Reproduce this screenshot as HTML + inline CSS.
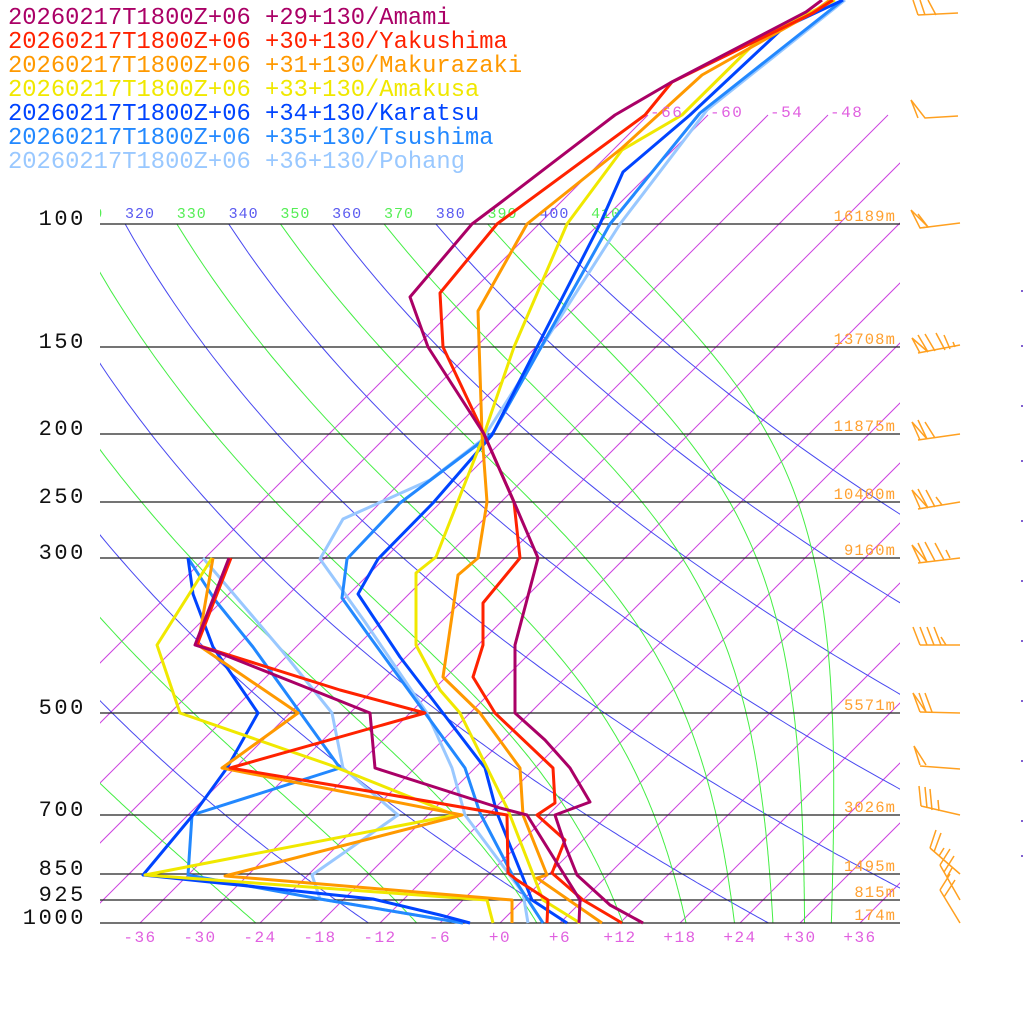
<!DOCTYPE html>
<html><head><meta charset="utf-8"><style>
html,body{margin:0;padding:0;background:#fff;}
svg{display:block;}
text{font-family:"Liberation Mono","DejaVu Sans Mono",monospace;}
</style></head><body>
<svg id="s" width="1024" height="1024" viewBox="0 0 1024 1024" xmlns="http://www.w3.org/2000/svg">
<defs>
<clipPath id="cp"><rect x="100" y="224" width="800" height="700"/></clipPath>
<clipPath id="ci"><rect x="100" y="110" width="800" height="814"/></clipPath>
<clipPath id="cl"><rect x="100" y="190" width="800" height="40"/></clipPath>
</defs>
<g id="bg"></g>
<g id="hl" stroke="#222" stroke-width="1.3"></g>
<g id="lbl"></g>
<g id="data" fill="none" stroke-width="3" stroke-linejoin="round"></g>
<g id="barbs" fill="none" stroke="#ffa020" stroke-width="1.5"></g>
<g id="leg" font-size="23.8"></g>
</svg>
<script>
var NS="http://www.w3.org/2000/svg";
function el(t,a,p,txt){var e=document.createElementNS(NS,t);for(var k in a)e.setAttribute(k,a[k]);if(txt!=null)e.textContent=txt;(p||document.getElementById('s')).appendChild(e);return e;}
var K=303.6,Y0=923;
function yP(p){return Y0-K*Math.log(1000/p);}
function xT(Tc,y){return 500+10*Tc+(Y0-y);}
var bg=document.getElementById('bg');
var gi=el('g',{'clip-path':'url(#ci)'},bg);
var ga=el('g',{'clip-path':'url(#cp)'},bg);
for(var T=-66;T<=48;T+=6){
  var y1=115,y2=923;
  el('line',{x1:xT(T,y1),y1:y1,x2:xT(T,y2),y2:y2,stroke:'#cc44e0','stroke-width':1},gi);
}
var Rd=287.04,cp=1005.7,L=2.501e6,eps=0.622;
function es(T){var t=T-273.15;return 6.112*Math.exp(17.67*t/(t+243.5));}
for(var th=250;th<=410;th+=10){
  var pts=[];
  if(th%20==0){
    for(var p=100;p<=1000;p+=5){var Tk=th*Math.pow(p/1000,0.2857);var y=yP(p);pts.push(xT(Tk-273.15,y).toFixed(1)+","+y.toFixed(1));}
    el('polyline',{points:pts.join(' '),fill:'none',stroke:'#4848f0','stroke-width':1},ga);
  } else {
    var Tk=th*Math.pow(0.1,0.2857);
    for(var p=100;p<=1000;p+=1){
      if(p%5==0){var y=yP(p);pts.push(xT(Tk-273.15,y).toFixed(1)+","+y.toFixed(1));}
      var e=es(Tk),rs=eps*e/(p-e);
      var dTdp=(Rd*Tk+L*rs)/(p*(cp+L*L*rs*eps/(Rd*Tk*Tk)));
      Tk+=dTdp;
    }
    el('polyline',{points:pts.join(' '),fill:'none',stroke:'#44ee44','stroke-width':1},ga);
  }
}
var gl=el('g',{'clip-path':'url(#cl)'},bg);
for(var th=310;th<=410;th+=10){
  var Tc=th*Math.pow(0.1,0.2857)-273.15;var x=xT(Tc,224);
  el('text',{x:x,y:218,'font-size':15,'letter-spacing':1,fill:(th%20==0?'#5a5af0':'#55ee55')},gl,String(th));
}
[-66,-60,-54,-48].forEach(function(T){el('text',{x:xT(T,115)+2,y:117,'font-size':16,'letter-spacing':1.5,fill:'#e060e0'},null,String(T));});
var hl=document.getElementById('hl');
var lev=[[100,224,'16189m'],[150,347,'13708m'],[200,434,'11875m'],[250,502,'10400m'],[300,558,'9160m'],[500,713,'5571m'],[700,815,'3026m'],[850,874,'1495m'],[925,900,'815m'],[1000,923,'174m']];
var lb=document.getElementById('lbl');
lev.forEach(function(l){
  el('line',{x1:100,y1:l[1],x2:900,y2:l[1]},hl);
  el('text',{x:86,y:l[1]+1,'font-size':22,'letter-spacing':2.6,'text-anchor':'end',fill:'#111'},lb,String(l[0]));
  el('text',{x:896,y:l[1]-3,'font-size':15.5,'letter-spacing':1.1,'text-anchor':'end',fill:'#ffa030'},lb,l[2]);
});
for(var T=-36;T<=36;T+=6){
  var s=(T>=0?'+':'')+T;
  el('text',{x:500+10*T,y:942,'font-size':16,'letter-spacing':1.5,'text-anchor':'middle',fill:'#e060e0'},lb,s);
}
var D=[
['#aa0066',
 [[822,0],[806,12],[670,83],[615,115],[500,203],[472,224],[410,297],[428,347],[484,434],[514,502],[538,558],[515,645],[515,713],[545,740],[570,768],[590,802],[555,815],[565,845],[577,875],[610,905],[643,923]],
 [[229,558],[195,645],[217,652],[300,685],[370,713],[375,768],[500,808],[527,815],[580,900],[579,923]]],
['#ff2200',
 [[833,0],[813,13],[672,82],[645,115],[497,224],[440,293],[443,347],[484,434],[514,502],[520,558],[483,603],[483,645],[473,677],[495,713],[553,768],[555,803],[537,815],[565,840],[552,873],[583,900],[622,923]],
 [[231,558],[197,645],[340,690],[425,713],[230,768],[380,793],[507,815],[508,873],[517,880],[548,900],[547,923]]],
['#ff9900',
 [[830,0],[812,13],[702,75],[622,148],[527,224],[478,311],[482,434],[487,502],[478,558],[458,575],[443,677],[480,713],[520,768],[523,815],[547,875],[537,878],[602,923]],
 [[213,558],[198,645],[298,713],[222,768],[462,815],[225,876],[512,900],[512,923]]],
['#f0e800',
 [[835,0],[760,38],[682,115],[622,150],[567,224],[514,347],[482,440],[436,557],[416,573],[416,645],[440,690],[460,713],[508,810],[543,900],[580,923]],
 [[212,558],[157,645],[180,713],[330,765],[455,815],[145,875],[487,900],[493,923]]],
['#0044ff',
 [[843,0],[783,28],[690,115],[623,172],[600,224],[492,435],[433,503],[378,559],[358,594],[400,657],[485,768],[497,813],[532,900],[567,923]],
 [[188,558],[193,594],[213,647],[258,713],[227,768],[193,815],[143,875],[373,899],[440,915],[470,923]]],
['#2288ff',
 [[843,0],[700,113],[610,224],[493,433],[400,503],[347,559],[342,598],[367,633],[465,768],[480,813],[515,880],[543,923]],
 [[188,558],[215,600],[253,647],[340,768],[192,815],[188,875],[320,899],[463,923]]],
['#99c8ff',
 [[845,0],[707,110],[620,224],[482,440],[430,480],[343,519],[320,559],[365,622],[427,713],[452,768],[465,815],[523,893],[528,923]],
 [[203,558],[283,652],[332,713],[343,768],[398,815],[312,875],[320,899],[463,923]]]
];
var gd=document.getElementById('data');
for(var i=D.length-1;i>=0;i--){
  var d=D[i];
  [d[1],d[2]].forEach(function(a){el('polyline',{points:a.map(function(q){return q.join(',');}).join(' '),stroke:d[0]},gd);});
}
var names=['+29+130/Amami','+30+130/Yakushima','+31+130/Makurazaki','+33+130/Amakusa','+34+130/Karatsu','+35+130/Tsushima','+36+130/Pohang'];
var lg=document.getElementById('leg');
names.forEach(function(n,i){el('text',{x:8,y:24+24*i,fill:D[i][0]},lg,'20260217T1800Z+06 '+n);});
var B=[
 [[918,15],[958,13]],[[913,0],[918,15]],[[920,0],[925,15]],[[928,0],[936,15]],
 [[911,100],[925,118],[958,116]],[[911,100],[918,118]],
 [[920,228],[960,223]],[[911,210],[920,228],[928,227],[911,210]],[[918,214],[928,227]],
 [[918,353],[960,345]],[[912,338],[920,353]],[[918,335],[928,352]],[[925,334],[935,351]],[[936,333],[945,350]],[[944,335],[950,349]],[[953,342],[955,347]],[[912,338],[928,352]],
 [[918,440],[960,434]],[[912,422],[920,440]],[[918,420],[927,439]],[[925,422],[935,438]],[[912,422],[927,439]],
 [[918,509],[960,502]],[[912,490],[920,508]],[[918,489],[928,508]],[[926,490],[935,507]],[[936,497],[942,505]],[[912,490],[928,508]],
 [[918,563],[960,558]],[[912,545],[920,562]],[[918,543],[927,562]],[[925,542],[935,561]],[[935,543],[944,560]],[[946,550],[950,558]],[[912,545],[927,562]],
 [[920,645],[960,645]],[[913,627],[920,645]],[[920,627],[927,645]],[[927,627],[934,645]],[[934,627],[941,645]],[[941,637],[946,645]],
 [[920,712],[960,713]],[[913,693],[920,712]],[[913,693],[926,712]],[[919,693],[926,712]],[[925,693],[932,712]],
 [[920,766],[960,769]],[[914,746],[920,765]],[[914,746],[926,765]],
 [[921,806],[960,815]],[[919,786],[921,806]],[[925,787],[927,808]],[[930,789],[932,810]],[[938,800],[939,811]],
 [[960,874],[930,848]],[[930,848],[936,830]],[[934,852],[941,833]],[[939,856],[944,848]],
 [[960,900],[940,865]],[[940,865],[950,849]],[[944,872],[954,856]],[[947,877],[952,868]],
 [[960,923],[940,890]],[[940,890],[950,874]],[[944,897],[955,880]]
];
var gb=document.getElementById('barbs');
B.forEach(function(a){el('polyline',{points:a.map(function(q){return q.join(',');}).join(' ')},gb);});
[290,345,405,460,520,580,640,700,760,820,855].forEach(function(y){el('rect',{x:1021,y:y,width:2,height:2,fill:'#8060d0'});});
</script>
</body></html>
